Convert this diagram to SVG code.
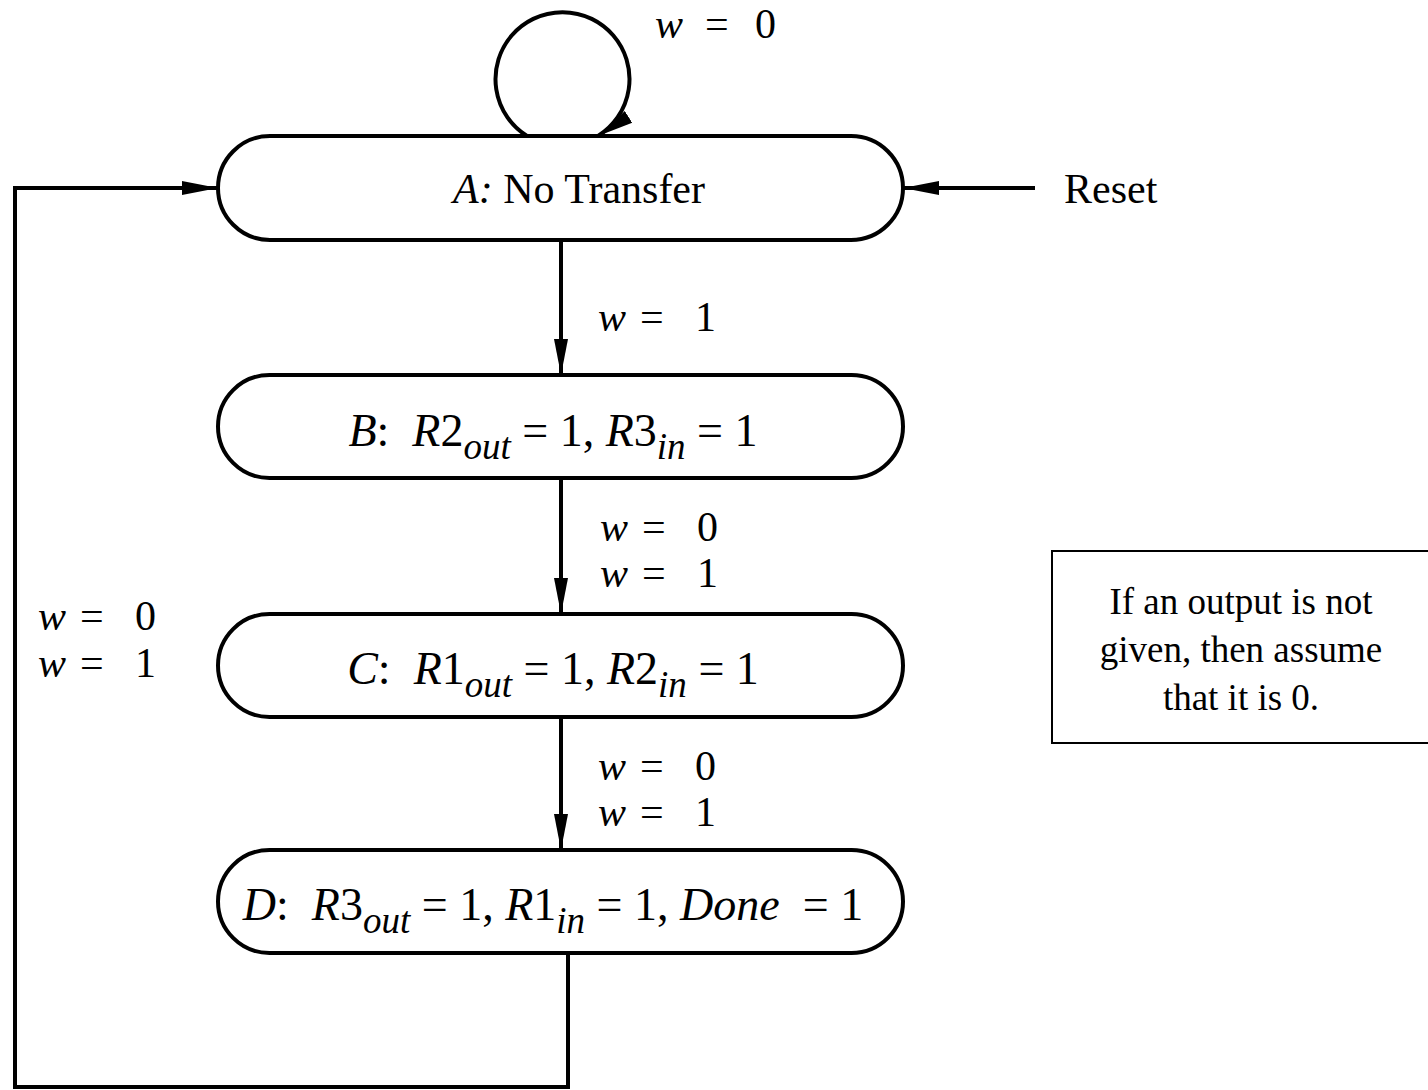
<svg xmlns="http://www.w3.org/2000/svg" width="1428" height="1090" viewBox="0 0 1428 1090">
<style>
text { font-family: "Liberation Serif", "Times New Roman", serif; font-size: 42px; fill: #000; white-space: pre; }
.i { font-style: italic; }
.lbl { font-size: 46px; }
.sub { font-size: 37px; font-style: italic; }
.note { font-size: 37px; }
.node { fill: #fff; stroke: #000; stroke-width: 4; }
.edge { fill: none; stroke: #000; stroke-width: 4; }
</style>
<defs>
<marker id="ah" markerUnits="userSpaceOnUse" markerWidth="36" markerHeight="18" viewBox="0 0 36 18" refX="36" refY="9" orient="auto">
<path d="M0,2 L36,9 L0,16 Z" fill="#000"/>
</marker>
</defs>
<g id="connectors">
<path class="edge" d="M527,136 A67,67 0 1 1 598,136" marker-end="url(#ah)"/>
<path class="edge" d="M1035,188 L903,188" marker-end="url(#ah)"/>
<path class="edge" d="M561,240 L561,375" marker-end="url(#ah)"/>
<path class="edge" d="M561,478 L561,614" marker-end="url(#ah)"/>
<path class="edge" d="M561,717 L561,850" marker-end="url(#ah)"/>
<path class="edge" d="M568,953 L568,1087 L15,1087 L15,188 L218,188" marker-end="url(#ah)"/>
<text x="655" y="38"><tspan class="i">w</tspan><tspan x="705">=</tspan><tspan x="755">0</tspan></text>
<text x="598" y="331"><tspan class="i">w</tspan><tspan x="640">=</tspan><tspan x="695">1</tspan></text>
<text x="600" y="541"><tspan class="i">w</tspan><tspan x="642">=</tspan><tspan x="697">0</tspan></text>
<text x="600" y="587"><tspan class="i">w</tspan><tspan x="642">=</tspan><tspan x="697">1</tspan></text>
<text x="598" y="780"><tspan class="i">w</tspan><tspan x="640">=</tspan><tspan x="695">0</tspan></text>
<text x="598" y="826"><tspan class="i">w</tspan><tspan x="640">=</tspan><tspan x="695">1</tspan></text>
<text x="38" y="630"><tspan class="i">w</tspan><tspan x="80">=</tspan><tspan x="135">0</tspan></text>
<text x="38" y="677"><tspan class="i">w</tspan><tspan x="80">=</tspan><tspan x="135">1</tspan></text>
<text x="1064" y="203">Reset</text>
</g>
<g id="A">
<rect class="node" x="218" y="136" width="685" height="104" rx="52" ry="52"/>
<text x="579" y="203" text-anchor="middle"><tspan class="i">A:</tspan> No Transfer</text>
</g>
<g id="B">
<rect class="node" x="218" y="375" width="685" height="103" rx="51.5" ry="51.5"/>
<text class="lbl" x="553" y="446" text-anchor="middle"><tspan class="i">B</tspan>:  <tspan class="i">R</tspan>2<tspan class="sub" dy="13">out</tspan><tspan dy="-13"> = 1, </tspan><tspan class="i">R</tspan>3<tspan class="sub" dy="13">in</tspan><tspan dy="-13"> = 1</tspan></text>
</g>
<g id="C">
<rect class="node" x="218" y="614" width="685" height="103" rx="51.5" ry="51.5"/>
<text class="lbl" x="553" y="684" text-anchor="middle"><tspan class="i">C</tspan>:  <tspan class="i">R</tspan>1<tspan class="sub" dy="13">out</tspan><tspan dy="-13"> = 1, </tspan><tspan class="i">R</tspan>2<tspan class="sub" dy="13">in</tspan><tspan dy="-13"> = 1</tspan></text>
</g>
<g id="D">
<rect class="node" x="218" y="850" width="685" height="103" rx="51.5" ry="51.5"/>
<text class="lbl" x="553" y="920" text-anchor="middle"><tspan class="i">D</tspan>:  <tspan class="i">R</tspan>3<tspan class="sub" dy="13">out</tspan><tspan dy="-13"> = 1, </tspan><tspan class="i">R</tspan>1<tspan class="sub" dy="13">in</tspan><tspan dy="-13"> = 1, </tspan><tspan class="i">Done</tspan><tspan>  = 1</tspan></text>
</g>
<g id="note">
<rect x="1052" y="551" width="380" height="192" fill="#fff" stroke="#000" stroke-width="2"/>
<text class="note" x="1241" y="614" text-anchor="middle">If an output is not</text>
<text class="note" x="1241" y="662" text-anchor="middle">given, then assume</text>
<text class="note" x="1241" y="710" text-anchor="middle">that it is 0.</text>
</g>
</svg>
